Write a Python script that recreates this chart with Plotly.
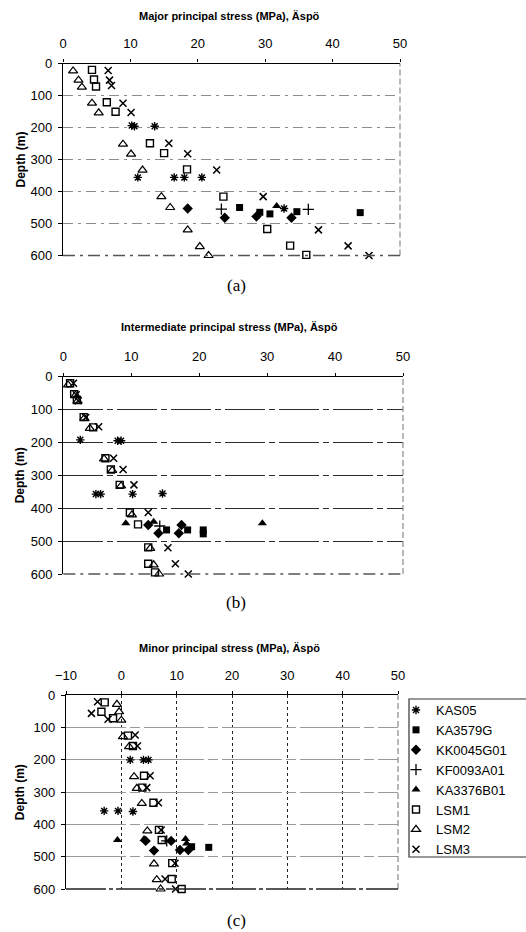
import plotly.graph_objects as go

# ---- measured principal stresses at Äspö: (stress MPa, depth m) ----
SERIES = ["KAS05", "KA3579G", "KK0045G01", "KF0093A01", "KA3376B01", "LSM1", "LSM2", "LSM3"]

# Major principal stress
major_KAS05 = [(10.2, 194), (10.6, 196), (13.6, 196), (11.1, 356), (16.5, 356), (18.0, 356), (20.6, 356), (32.8, 453)]
major_KA3579G = [(26.2, 450), (29.2, 465), (30.7, 470), (34.7, 463), (44.1, 466)]
major_KK0045G01 = [(18.5, 453), (24.0, 482), (28.7, 478), (33.9, 482)]
major_KF0093A01 = [(23.5, 455), (36.4, 456)]
major_KA3376B01 = [(31.7, 445)]
major_LSM1 = [(4.3, 20), (4.6, 50), (4.9, 72), (6.5, 121), (7.8, 151), (12.9, 249), (15.0, 280),
              (18.4, 331), (23.8, 416), (30.3, 517), (33.7, 569), (36.1, 598)]
major_LSM2 = [(1.5, 23), (2.3, 52), (2.8, 74), (4.3, 124), (5.3, 154), (8.9, 252), (10.1, 283),
              (11.8, 333), (14.6, 416), (15.9, 450), (18.5, 520), (20.3, 572), (21.6, 600)]
major_LSM3 = [(6.7, 22), (6.9, 52), (7.2, 69), (8.9, 124), (10.1, 153), (15.7, 249), (18.5, 282),
              (22.8, 333), (29.7, 416), (37.9, 520), (42.3, 570), (45.4, 600)]

# Intermediate principal stress
inter_KAS05 = [(2.5, 192), (8.0, 195), (8.5, 195), (4.8, 357), (5.5, 357), (10.2, 357), (14.6, 355)]
inter_KA3579G = [(15.2, 466), (18.3, 466), (20.6, 466), (20.6, 478)]
inter_KK0045G01 = [(12.5, 451), (14.0, 476), (17.4, 451), (17.0, 476)]
inter_KF0093A01 = [(14.2, 454)]
inter_KA3376B01 = [(9.2, 446), (13.3, 441), (29.3, 446)]
inter_LSM1 = [(1.0, 20), (1.6, 53), (2.0, 71), (3.0, 123), (4.4, 154), (6.2, 248), (7.0, 282),
              (8.3, 329), (9.8, 413), (11.0, 449), (12.5, 519), (12.5, 569), (13.5, 595)]
inter_LSM2 = [(0.7, 25), (1.8, 56), (2.1, 74), (3.1, 126), (3.9, 157), (6.0, 250), (7.2, 285),
              (8.5, 332), (10.1, 420), (12.8, 522), (13.3, 572), (14.1, 600)]
inter_LSM3 = [(1.5, 20), (1.9, 55), (2.2, 73), (3.3, 124), (5.2, 152), (7.4, 248), (8.8, 282),
              (10.4, 329), (12.5, 413), (15.4, 520), (16.5, 569), (18.4, 600)]

# Minor principal stress
minor_KAS05 = [(1.6, 200), (4.0, 200), (4.9, 200), (-3.1, 358), (-0.6, 358), (2.1, 360)]
minor_KA3579G = [(12.7, 469), (15.8, 471)]
minor_KK0045G01 = [(4.4, 451), (5.9, 481), (9.0, 451), (10.6, 479), (12.1, 479)]
minor_KF0093A01 = [(8.2, 451)]
minor_KA3376B01 = [(-0.7, 448), (4.1, 445), (11.6, 445), (11.8, 459)]
minor_LSM1 = [(-3.0, 22), (-3.6, 51), (-1.5, 71), (1.2, 125), (2.1, 157), (4.1, 249), (3.8, 286),
              (5.8, 333), (6.8, 417), (7.3, 448), (9.2, 520), (9.1, 569), (10.9, 600)]
minor_LSM2 = [(-0.8, 28), (-0.4, 51), (0.0, 77), (0.3, 128), (1.4, 159), (2.3, 252), (2.8, 288),
              (3.7, 335), (4.7, 420), (5.9, 522), (6.4, 571), (7.1, 600)]
minor_LSM3 = [(-4.3, 20), (-5.4, 56), (-2.4, 74), (2.5, 123), (2.9, 157), (5.2, 249), (4.6, 286),
              (6.7, 333), (7.2, 417), (9.7, 520), (7.9, 569), (9.8, 600)]

DEPTH_TICKS = [0, 100, 200, 300, 400, 500, 600]
STRESS_TICKS_AB = [0, 10, 20, 30, 40, 50]
STRESS_TICKS_C = [-10, 0, 10, 20, 30, 40, 50]

TITLES = ["Major principal stress (MPa), Äspö",
          "Intermediate principal stress (MPa), Äspö",
          "Minor principal stress (MPa), Äspö"]
CAPTIONS = ["(a)", "(b)", "(c)"]

panels = [
    dict(KAS05=major_KAS05, KA3579G=major_KA3579G, KK0045G01=major_KK0045G01,
         KF0093A01=major_KF0093A01, KA3376B01=major_KA3376B01,
         LSM1=major_LSM1, LSM2=major_LSM2, LSM3=major_LSM3),
    dict(KAS05=inter_KAS05, KA3579G=inter_KA3579G, KK0045G01=inter_KK0045G01,
         KF0093A01=inter_KF0093A01, KA3376B01=inter_KA3376B01,
         LSM1=inter_LSM1, LSM2=inter_LSM2, LSM3=inter_LSM3),
    dict(KAS05=minor_KAS05, KA3579G=minor_KA3579G, KK0045G01=minor_KK0045G01,
         KF0093A01=minor_KF0093A01, KA3376B01=minor_KA3376B01,
         LSM1=minor_LSM1, LSM2=minor_LSM2, LSM3=minor_LSM3),
]

# ---- styling ----
W, H = 526, 932
SANS = "Liberation Sans, Arial, sans-serif"
SERIF = "Liberation Serif, Times New Roman, serif"
INK = "black"

MARKERS = {
    "KAS05": dict(symbol="asterisk-open", size=7, color=INK, line=dict(width=1.4, color=INK)),
    "KA3579G": dict(symbol="square", size=7, color=INK, line=dict(width=0)),
    "KK0045G01": dict(symbol="diamond", size=8, color=INK, line=dict(width=0)),
    "KF0093A01": dict(symbol="cross-thin-open", size=8, color=INK, line=dict(width=1.3, color=INK)),
    "KA3376B01": dict(symbol="triangle-up", size=8, color=INK, line=dict(width=0)),
    "LSM1": dict(symbol="square-open", size=7, color=INK, line=dict(width=1.4, color=INK)),
    "LSM2": dict(symbol="triangle-up-open", size=8, color=INK, line=dict(width=1.2, color=INK)),
    "LSM3": dict(symbol="x-thin-open", size=7, color=INK, line=dict(width=1.5, color=INK)),
}


def px_x(p):
    return p / W


def px_y(p):
    return 1 - p / H


# pixel frames of the three plot areas: (left, right, top, bottom)
frames = [(63, 400, 63.5, 255.5), (63.3, 403, 376.7, 574), (66, 398, 695.3, 889)]
x_ranges = [[0, 50], [0, 50], [-10, 50]]
x_ticks = [STRESS_TICKS_AB, STRESS_TICKS_AB, STRESS_TICKS_C]
grid_styles = [
    dict(gridcolor="#8c8c8c", griddash="10px,5px,3px,5px"),
    dict(gridcolor="#2b2b2b", griddash="40px,4px,6px,4px"),
    dict(gridcolor="#9a9a9a", griddash="60px,4px,10px,4px"),
]
bottom_styles = [
    dict(color="#555", width=1.3, dash="12px,5px,3px,5px"),
    dict(color="#555", width=1.3, dash="12px,5px,3px,5px"),
    dict(color="#222", width=1.4, dash="40px,3px,4px,3px"),
]

fig = go.Figure()
layout = dict(width=W, height=H, paper_bgcolor="white", plot_bgcolor="white",
              margin=dict(l=0, r=0, t=0, b=0, autoexpand=False), showlegend=True)
annotations = []
shapes = []

for i, data in enumerate(panels):
    n = "" if i == 0 else str(i + 1)
    xa, ya = "xaxis" + n, "yaxis" + n
    xr, yr = "x" + n, "y" + n
    left, right, top, bottom = frames[i]

    for name in SERIES:
        pts = data[name]
        fig.add_trace(go.Scatter(
            x=[p[0] for p in pts], y=[p[1] for p in pts], mode="markers",
            name=name, marker=MARKERS[name], xaxis=xr, yaxis=yr,
            showlegend=(i == 2), cliponaxis=False,
        ))

    layout[xa] = dict(
        domain=[px_x(left), px_x(right)], anchor=yr, side="top", range=x_ranges[i],
        tickvals=x_ticks[i], ticks="outside", ticklen=3, tickcolor="black",
        showline=True, linecolor="black", linewidth=1.3,
        showgrid=(i == 2), gridcolor="#222", griddash="dot", gridwidth=1,
        zeroline=False, tickfont=dict(family=SANS, size=13, color="black"),
        ticklabelstandoff=6,
    )
    layout[ya] = dict(
        domain=[px_y(bottom), px_y(top)], anchor=xr, range=[600, 0],
        tickvals=DEPTH_TICKS, ticks="outside", ticklen=4, tickcolor="black",
        showline=True, linecolor="black", linewidth=1.3,
        showgrid=True, gridwidth=1.2, zeroline=False,
        tickfont=dict(family=SANS, size=13, color="black"), ticklabelstandoff=3,
        **grid_styles[i],
    )

    # right-hand and bottom frame edges
    shapes.append(dict(type="line", xref=xr + " domain", yref=yr + " domain",
                       x0=1, x1=1, y0=0, y1=1,
                       line=dict(color="#8a8a8a", width=1.2, dash="6px,3px")))
    shapes.append(dict(type="line", xref=xr + " domain", yref=yr + " domain",
                       x0=0, x1=1, y0=0, y1=0, line=bottom_styles[i]))

    mid = (top + bottom) / 2
    annotations.append(dict(text="<b>Depth (m)</b>", x=px_x(20), y=px_y(mid), xref="paper", yref="paper",
                            textangle=-90, showarrow=False, xanchor="center", yanchor="middle",
                            font=dict(family=SANS, size=12, color="black")))
    title_y = [16, 327, 648][i]
    annotations.append(dict(text="<b>" + TITLES[i] + "</b>", x=px_x(229), y=px_y(title_y),
                            xref="paper", yref="paper", showarrow=False,
                            xanchor="center", yanchor="middle",
                            font=dict(family=SANS, size=11, color="black")))
    cap_y = [285, 602, 920][i]
    annotations.append(dict(text=CAPTIONS[i], x=px_x(236), y=px_y(cap_y),
                            xref="paper", yref="paper", showarrow=False,
                            xanchor="center", yanchor="middle",
                            font=dict(family=SERIF, size=17, color="black")))

# legend frame (box runs off the right edge of the page)
shapes.append(dict(type="rect", xref="paper", yref="paper",
                   x0=px_x(409), x1=px_x(532), y0=px_y(857), y1=px_y(699),
                   line=dict(color="#333", width=1.2), fillcolor="rgba(0,0,0,0)"))

layout["legend"] = dict(x=px_x(396), y=px_y(695), xanchor="left", yanchor="top",
                        borderwidth=0, bgcolor="rgba(0,0,0,0)",
                        font=dict(family=SANS, size=13, color="black"),
                        itemwidth=30, tracegroupgap=0)
layout["annotations"] = annotations
layout["shapes"] = shapes
fig.update_layout(**layout)

fig.write_html("out.html")
